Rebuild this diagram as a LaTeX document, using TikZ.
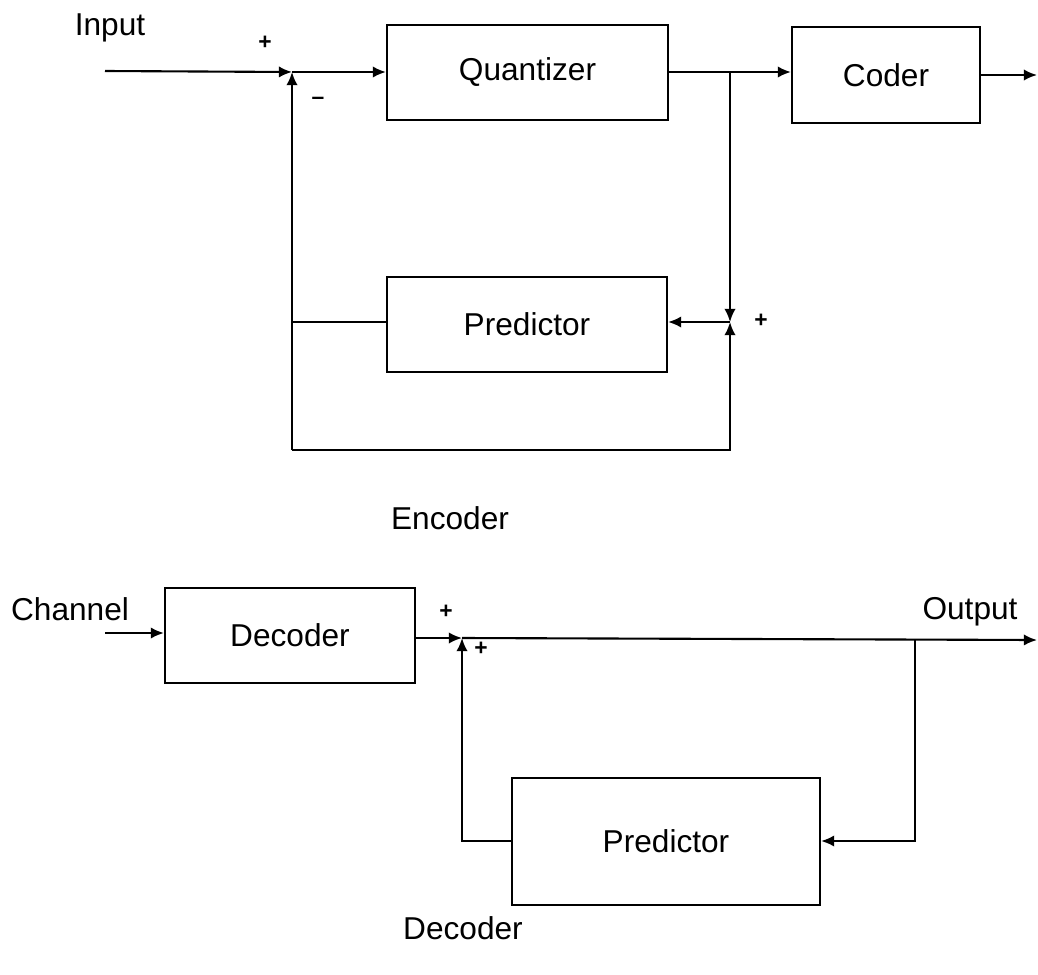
\documentclass[tikz,border=0pt]{standalone}
\usepackage{fontspec}
\setmainfont{Liberation Sans}
\usetikzlibrary{arrows.meta}
\begin{document}
\begin{tikzpicture}[x=0.02cm,y=-0.02cm,
  every node/.style={font=\fontsize{18}{22}\selectfont},
  blk/.style={draw,line width=1.2pt,minimum width=#1,inner sep=0pt},
  wire/.style={line width=1.2pt},
  arr/.style={wire,-{Latex[length=7.5pt,width=6.5pt]}},
  sgn/.style={font=\fontsize{13}{15}\bfseries\selectfont,inner sep=0pt}]
\useasboundingbox (0,0) rectangle (1038,974);
% ---- encoder ----
\node[blk=281*0.02cm,minimum height=95*0.02cm] (quant) at (527.5,72.5) {Quantizer};
\node[blk=188*0.02cm,minimum height=96*0.02cm] (coder) at (886,75) {Coder};
\node[blk=280*0.02cm,minimum height=95*0.02cm] (pred1) at (527,324.5) {Predictor};
\coordinate (in) at (105,71);
\coordinate (j1) at (292,72);
\coordinate (br1) at (730,72);
\coordinate (j2) at (730,322);
\coordinate (bl) at (292,450);
\coordinate (br) at (730,450);
\coordinate (out1) at (1037,75);
\node (input) at (110,28) {Input};
\node[sgn] at (265,43) {+};
\node[sgn] at (318,101) {--};
\node[sgn] at (761,321) {+};
\draw[arr] (in) -- (j1);
\draw[arr] (j1) -- (quant.west |- j1);
\draw[arr] (quant.east |- br1) -- (coder.west |- br1);
\draw[arr] (coder.east |- out1) -- (out1);
\draw[arr] (br1) -- (j2);
\draw[arr] (j2) -- (pred1.east |- j2);
\draw[wire] (pred1.west |- j2) -- (j2 -| j1);
\draw[arr] (bl) -- (j1);
\draw[arr] (bl) -- (br) -- (j2);
\node at (450,518) {Encoder};
% ---- decoder ----
\node[blk=250*0.02cm,minimum height=95*0.02cm] (dec) at (290,635.5) {Decoder};
\node[blk=308*0.02cm,minimum height=127*0.02cm] (pred2) at (666,841.5) {Predictor};
\coordinate (ch) at (105,633);
\coordinate (j3) at (462,638);
\coordinate (br2) at (915,640);
\coordinate (out2) at (1037,640);
\coordinate (pl) at (462,841);
\node (channel) at (70,609) {Channel};
\node (output) at (970,612) {Output};
\node[sgn] at (446,612) {+};
\node[sgn] at (481,649) {+};
\draw[arr] (ch) -- (dec.west |- ch);
\draw[arr] (dec.east |- j3) -- (j3);
\draw[arr] (j3) -- (out2);
\draw[arr] (br2) -- (br2 |- pl) -- (pred2.east |- pl);
\draw[arr] (pred2.west |- pl) -- (pl) -- (j3);
\node at (463,928) {Decoder};
\end{tikzpicture}
\end{document}
